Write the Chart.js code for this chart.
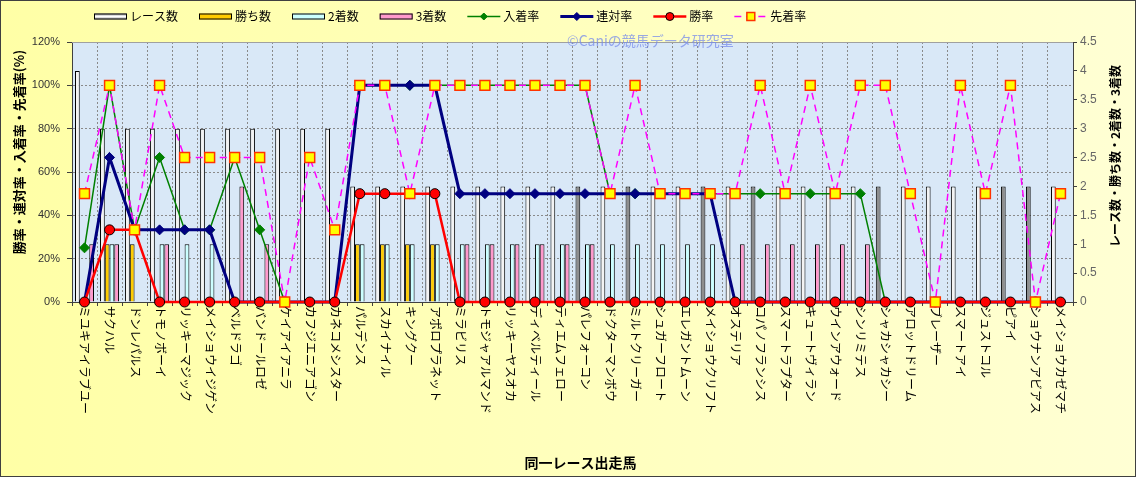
<!DOCTYPE html>
<html>
<head>
<meta charset="utf-8">
<script src="https://cdn.jsdelivr.net/npm/chart.js@4.4.1/dist/chart.umd.min.js"></script>
<style>
html,body{margin:0;padding:0;background:#ffffff;}
#wrap{width:1136px;height:477px;position:relative;}
canvas{display:block;}
</style>
</head>
<body>
<div id="wrap"><canvas id="c" width="1136" height="477"></canvas></div>
<script>
// ---------------- data ----------------
const horses = ['ミユキアイラブユー','サクハル','ドンレパルス','トモノボーイ','リッキーマジック','メイショウイジゲン','ベルドラゴ','バンドールロゼ','ケイアイアニラ','カフジエニアゴン','カネコメシスター','パルデンス','スカイナイル','キングクー','アポロプラネット','ミラビリス','トモジャアルマンド','リッキーヤスオカ','ディベルティール','ティエムフェロー','パレフォーコン','ドクターマンボウ','ミルトクリーガー','シュガーフロート','エレガントムーン','メイショウクリフト','オステリア','コパノフランシス','スマートラプター','キュートヴィラン','ウインアウォード','シンリミテス','シャカシャカシー','アロットドリーム','ブレーザー','スマートアイ','ジュストコル','ピアイ','ショウナンアビアス','メイショウカゼマチ'];

const raceCounts   = [4,3,3,3,3,3,3,3,3,3,3, 2,2,2,2, 2,2,2,2,2,2, 2,2,2,2,2, 2,2,2,2,2,2, 2,2,2,2,2,2,2,2];
const winCounts    = [0,1,1,0,0,0,0,0,0,0,0, 1,1,1,1, 0,0,0,0,0,0, 0,0,0,0,0, 0,0,0,0,0,0, 0,0,0,0,0,0,0,0];
const secondCounts = [0,1,0,1,1,1,0,0,0,0,0, 1,1,1,1, 1,1,1,1,1,1, 1,1,1,1,1, 0,0,0,0,0,0, 0,0,0,0,0,0,0,0];
const thirdCounts  = [1,1,0,1,0,0,2,1,0,0,0, 0,0,0,0, 1,1,1,1,1,1, 0,0,0,0,0, 1,1,1,1,1,1, 0,0,0,0,0,0,0,0];

const placeRate    = [25,100,33.3,66.7,33.3,33.3,66.7,33.3,0,0,0, 100,100,100,100, 100,100,100,100,100,100, 50,50,50,50,50, 50,50,50,50,50,50, 0,0,0,0,0,0,0,0];
const quinellaRate = [0,66.7,33.3,33.3,33.3,33.3,0,0,0,0,0, 100,100,100,100, 50,50,50,50,50,50, 50,50,50,50,50, 0,0,0,0,0,0, 0,0,0,0,0,0,0,0];
const winRate      = [0,33.3,33.3,0,0,0,0,0,0,0,0, 50,50,50,50, 0,0,0,0,0,0, 0,0,0,0,0, 0,0,0,0,0,0, 0,0,0,0,0,0,0,0];
const aheadRate    = [50,100,33.3,100,66.7,66.7,66.7,66.7,0,66.7,33.3, 100,100,50,100, 100,100,100,100,100,100, 50,100,50,50,50, 50,100,50,100,50,100, 100,50,0,100,50,100,0,50];

const leftTicksMax = 120, leftStep = 20;
const rightTicksMax = 4.5, rightStep = 0.5;

// ---------------- style ----------------
const darkRaceBars = [20,22,25,27,32,37,38]; // categories whose race bar is drawn dark grey
const JP = '"Noto Sans CJK JP", "Noto Sans", sans-serif';
const NUM = '"Liberation Sans", Arial, sans-serif';
const PLOT_BG = '#D9E8F7';

const barCommon = {
  type: 'bar', yAxisID: 'y2', borderColor: '#000000',
  borderWidth: c => (c.raw ? 1 : 0), borderSkipped: 'bottom',
  categoryPercentage: 0.76, barPercentage: 1.0
};

const datasets = [
  Object.assign({}, barCommon, {label: 'レース数', data: raceCounts, order: 5,
    backgroundColor: c => darkRaceBars.includes(c.dataIndex) ? '#8E8E8E' : '#F3F3F3',
    legendKind: 'bar', legendFill: 'race'}),
  Object.assign({}, barCommon, {label: '勝ち数', data: winCounts, order: 6, backgroundColor: '#FFCC00', legendKind: 'bar'}),
  Object.assign({}, barCommon, {label: '2着数', data: secondCounts, order: 7, backgroundColor: '#CCFFFF', legendKind: 'bar'}),
  Object.assign({}, barCommon, {label: '3着数', data: thirdCounts, order: 8, backgroundColor: '#FF99CC', legendKind: 'bar'}),
  {type: 'line', label: '入着率', data: placeRate, yAxisID: 'y', order: 4,
    borderColor: '#008000', borderWidth: 1.5, tension: 0, fill: false,
    pointStyle: 'rectRot', pointRadius: 5, pointBackgroundColor: '#008000', pointBorderColor: '#008000', pointBorderWidth: 1,
    legendKind: 'line', legendPointR: 3.5},
  {type: 'line', label: '連対率', data: quinellaRate, yAxisID: 'y', order: 3,
    borderColor: '#000080', borderWidth: 3, tension: 0, fill: false,
    pointStyle: 'rectRot', pointRadius: 5, pointBackgroundColor: '#000080', pointBorderColor: '#000080', pointBorderWidth: 1,
    legendKind: 'line', legendPointR: 4},
  {type: 'line', label: '勝率', data: winRate, yAxisID: 'y', order: 2,
    borderColor: '#FF0000', borderWidth: 2.5, tension: 0, fill: false,
    pointStyle: 'circle', pointRadius: 5, pointBackgroundColor: '#FF0000', pointBorderColor: '#000000', pointBorderWidth: 1,
    legendKind: 'line', legendPointR: 4},
  {type: 'line', label: '先着率', data: aheadRate, yAxisID: 'y', order: 1,
    borderColor: '#FF00FF', borderWidth: 1.5, borderDash: [7, 5], tension: 0, fill: false,
    pointStyle: 'rect', pointRadius: 7, pointBackgroundColor: '#FFFF00', pointBorderColor: '#FF3300', pointBorderWidth: 1.5,
    legendKind: 'line', legendPointR: 5.5}
];

function drawMarker(ctx, ds, x, y, r) {
  ctx.save();
  ctx.setLineDash([]);
  ctx.fillStyle = ds.pointBackgroundColor;
  ctx.strokeStyle = ds.pointBorderColor;
  ctx.lineWidth = ds.pointBorderWidth;
  ctx.beginPath();
  if (ds.pointStyle === 'rectRot') {
    ctx.moveTo(x, y - r); ctx.lineTo(x + r, y); ctx.lineTo(x, y + r); ctx.lineTo(x - r, y); ctx.closePath();
  } else if (ds.pointStyle === 'circle') {
    ctx.arc(x, y, r, 0, Math.PI * 2);
  } else {
    ctx.rect(x - r * 0.72, y - r * 0.72, r * 1.44, r * 1.44);
  }
  ctx.fill(); ctx.stroke();
  ctx.restore();
}

const decor = {
  id: 'decor',
  beforeDraw(chart) {
    const {ctx, chartArea: a, width, height} = chart;
    ctx.save();
    const g = ctx.createLinearGradient(0, 0, width, 0);
    g.addColorStop(0, '#FFFFA6');
    g.addColorStop(1, '#FFFFD4');
    ctx.fillStyle = g;
    ctx.fillRect(0, 0, width, height);
    ctx.fillStyle = PLOT_BG;
    ctx.fillRect(a.left, a.top, a.right - a.left, a.bottom - a.top);
    ctx.restore();
  },
  afterDraw(chart) {
    const {ctx, chartArea: a, scales, width, height} = chart;
    ctx.save();
    // plot top border
    ctx.strokeStyle = '#A0A0A0'; ctx.lineWidth = 1; ctx.setLineDash([]);
    ctx.beginPath(); ctx.moveTo(a.left, Math.round(a.top) + 0.5); ctx.lineTo(a.right, Math.round(a.top) + 0.5); ctx.stroke();

    // vertical category labels (top-to-bottom)
    ctx.fillStyle = '#000000';
    ctx.font = '12px ' + JP;
    ctx.textAlign = 'left'; ctx.textBaseline = 'middle';
    chart.data.labels.forEach((lab, i) => {
      const x = scales.x.getPixelForValue(i);
      ctx.save();
      ctx.translate(x + 0.5, a.bottom + 4);
      ctx.rotate(Math.PI / 2);
      ctx.fillText(lab, 0, 0);
      ctx.restore();
    });

    // x axis title
    ctx.font = 'bold 14px ' + JP;
    ctx.textAlign = 'center'; ctx.textBaseline = 'middle';
    ctx.fillText('同一レース出走馬', (a.left + a.right) / 2 + 8, 463);

    // left axis title
    ctx.save();
    ctx.translate(19, (a.top + a.bottom) / 2 - 20);
    ctx.rotate(-Math.PI / 2);
    ctx.font = 'bold 13px ' + JP;
    ctx.fillText('勝率・連対率・入着率・先着率(%)', 0, 0);
    ctx.restore();

    // right axis title
    ctx.save();
    ctx.translate(1115, (a.top + a.bottom) / 2 - 16);
    ctx.rotate(-Math.PI / 2);
    ctx.font = 'bold 12px ' + JP;
    ctx.fillText('レース数・勝ち数・2着数・3着数', 0, 0);
    ctx.restore();

    // watermark
    ctx.font = '14px ' + JP;
    ctx.fillStyle = 'rgba(120,140,235,0.75)';
    ctx.textAlign = 'left';
    ctx.fillText('©Caniの競馬データ研究室', 567, 41);

    // legend
    let lx = 94; const ly = 16.5;
    ctx.font = '12px ' + JP;
    chart.data.datasets.forEach(ds => {
      const mw = 33;
      if (ds.legendKind === 'bar') {
        let fill = ds.backgroundColor;
        if (ds.legendFill === 'race') {
          fill = ctx.createLinearGradient(0, ly - 3, 0, ly + 3);
          fill.addColorStop(0, '#9A9A9A'); fill.addColorStop(0.5, '#FFFFFF'); fill.addColorStop(1, '#9A9A9A');
        }
        ctx.fillStyle = fill;
        ctx.fillRect(lx, ly - 3, mw, 6);
        ctx.strokeStyle = '#000000'; ctx.lineWidth = 1; ctx.setLineDash([]);
        ctx.strokeRect(lx + 0.5, ly - 2.5, mw - 1, 5);
      } else {
        ctx.strokeStyle = ds.borderColor; ctx.lineWidth = ds.borderWidth;
        ctx.setLineDash(ds.borderDash || []);
        ctx.beginPath(); ctx.moveTo(lx, ly); ctx.lineTo(lx + mw, ly); ctx.stroke();
        ctx.setLineDash([]);
        drawMarker(ctx, ds, lx + mw / 2, ly, ds.legendPointR);
      }
      ctx.fillStyle = '#000000';
      ctx.textAlign = 'left'; ctx.textBaseline = 'middle';
      ctx.fillText(ds.label, lx + mw + 3, ly);
      lx += mw + 3 + ctx.measureText(ds.label).width + 21;
    });

    // outer frame
    ctx.strokeStyle = '#404040'; ctx.lineWidth = 1; ctx.setLineDash([]);
    ctx.strokeRect(0.5, 0.5, width - 1, height - 1);
    ctx.restore();
  }
};

new Chart(document.getElementById('c'), {
  type: 'bar',
  data: {labels: horses, datasets: datasets},
  options: {
    responsive: false,
    animation: false,
    events: [],
    layout: {padding: {top: 42, left: 0, right: 0, bottom: 0}},
    plugins: {legend: {display: false}, tooltip: {enabled: false}, title: {display: false}},
    datasets: {line: {clip: false}},
    scales: {
      x: {
        type: 'category', offset: true,
        grid: {offset: true, color: '#8A8A8A', lineWidth: 1, drawTicks: true, tickLength: 4, tickColor: '#404040'},
        border: {display: true, color: '#404040', width: 1, dash: [2, 2]},
        ticks: {display: false},
        afterFit: s => { s.height = 175; }
      },
      y: {
        position: 'left', min: 0, max: leftTicksMax,
        ticks: {stepSize: leftStep, callback: v => v + '%', color: '#333333', font: {family: NUM, size: 11}, padding: 7},
        grid: {color: '#8A8A8A', lineWidth: 1, drawTicks: true, tickLength: 5, tickColor: '#404040'},
        border: {display: true, color: '#404040', width: 1, dash: [2, 2]},
        afterFit: s => { s.width = 72; }
      },
      y2: {
        position: 'right', min: 0, max: rightTicksMax,
        ticks: {stepSize: rightStep, callback: v => String(v), color: '#666666', font: {family: NUM, size: 12}, padding: 3},
        grid: {drawOnChartArea: false, drawTicks: true, tickLength: 4, tickColor: '#404040'},
        border: {display: true, color: '#404040', width: 1},
        afterFit: s => { s.width = 63; }
      }
    }
  },
  plugins: [decor]
});
</script>
</body>
</html>
